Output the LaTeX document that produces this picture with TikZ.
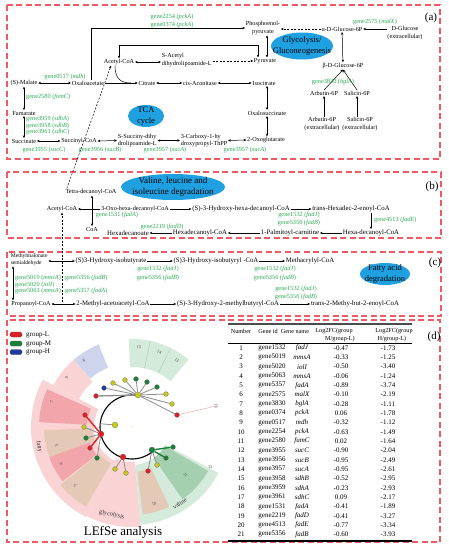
\documentclass[tikz,border=0pt]{standalone}
\usepackage{fontspec}
\setmainfont{Liberation Serif}
\usetikzlibrary{arrows.meta,shapes.geometric,calc}
\pgfdeclarelayer{back}\pgfdeclarelayer{mid}\pgfsetlayers{back,mid,main}
\definecolor{genegreen}{RGB}{40,170,80}
\definecolor{boxred}{RGB}{240,90,100}
\definecolor{ellblue}{RGB}{30,160,225}
\definecolor{wpink}{RGB}{250,212,212}
\definecolor{wdpink}{RGB}{242,165,170}
\definecolor{wtan}{RGB}{228,202,182}
\definecolor{wgreen}{RGB}{212,234,218}
\definecolor{wdgreen}{RGB}{165,208,175}
\definecolor{wblue}{RGB}{205,212,235}
\definecolor{cred}{RGB}{225,30,35}
\definecolor{cgreen}{RGB}{25,130,55}
\definecolor{cyel}{RGB}{200,200,30}
\definecolor{cblue}{RGB}{30,60,160}
\newcommand{\gtxt}[2]{gene#1 (\textit{#2})}
\newcommand{\annsec}[5]{\fill[#1] (#2:#4) arc[start angle=#2,end angle=#3,radius=#4] -- (#3:#5) arc[start angle=#3,end angle=#2,radius=#5] -- cycle;}
\begin{document}
\begin{tikzpicture}[x=1pt,y=-1pt,
 >={Stealth[length=2.8pt,width=2.4pt]},
 pa/.style={font=\fontsize{6.2}{7.4}\selectfont, inner sep=0.6pt, align=center},
 pb/.style={font=\fontsize{6.8}{8}\selectfont, inner sep=0.6pt, align=center},
 gn/.style={font=\fontsize{6.3}{6.5}\selectfont, text=genegreen, inner sep=0pt},
 arr/.style={->, line width=0.5pt},
 darr/.style={<->, line width=0.5pt},
 dsh/.style={->, line width=0.5pt, dash pattern=on 2pt off 1.5pt},
 panel/.style={draw=boxred, line width=1.1pt, dash pattern=on 6pt off 3.5pt},
 plab/.style={font=\fontsize{11}{12}\selectfont, inner sep=0pt},
 ellb/.style={ellipse, fill=ellblue, inner sep=0pt},
 etxt/.style={font=\fontsize{8.5}{10.5}\selectfont, align=center, inner sep=0pt},
 tb/.style={font=\fontsize{7}{8}\selectfont, inner sep=0pt},
 th/.style={font=\fontsize{6.2}{7}\selectfont, inner sep=0pt},
 leaf/.style={circle, draw=black!60, line width=0.2pt, inner sep=0pt, minimum size=4.8pt},
 hub/.style={circle, draw=black!60, line width=0.2pt, inner sep=0pt, minimum size=6pt},
 cedge/.style={draw=black!45, line width=0.8pt},
 redge/.style={draw=cred, line width=1.4pt},
 gedge/.style={draw=cgreen, line width=1.4pt},
 wl/.style={font=\fontsize{4.5}{5}\selectfont, text=black!70, inner sep=0pt},
 cl/.style={font=\fontsize{6.3}{7}\selectfont, text=black!80, inner sep=0pt},
 legbox/.style={rounded corners=1.5pt, minimum width=12pt, minimum height=5pt, draw=black!70, line width=0.3pt, inner sep=0pt},
 legt/.style={font=\fontsize{7}{8}\selectfont, inner sep=0pt, anchor=west}]
\useasboundingbox (0,0) rectangle (449,550);
% panels
\draw[panel] (7,5) rectangle (440,159);
\draw[panel] (7,172) rectangle (441,238);
\draw[panel] (7,252) rectangle (441,316);
\draw[panel] (7,320) rectangle (440,542);
\node[plab] (la) at (431,18) {(a)};
\node[plab] (lb) at (432,187) {(b)};
\node[plab] (lc) at (435,263) {(c)};
\node[plab] (ld) at (434,337) {(d)};
% ---------- panel (a)
\node[ellb, minimum width=62pt, minimum height=27pt] (gly) at (302,46) {};
\node[etxt] (glyt) at (gly) {Glycolysis/\\Gluconeogenesis};
\node[ellb, minimum width=36pt, minimum height=22pt] (tca) at (146,116) {};
\node[etxt] (tcat) at (tca) {TCA\\cycle};
\node[pa] (mal) at (24,83) {(S)-Malate};
\node[pa] (oxa) at (88,83) {Oxaloacetate};
\node[pa] (acc) at (119,62) {Acetyl-CoA};
\node[pa, align=left, anchor=west] (sac) at (161,60) {S-Acetyl\\dihydrolipoamide-L};
\node[pa] (pep) at (263,28) {Phosphoenol-\\pyruvate};
\node[pa] (pyr) at (265,61) {Pyruvate};
\node[pa] (agl) at (342,29) {α-D-Glucose-6P};
\node[pa] (dgl) at (405,33) {D-Glucose\\(extracellular)};
\node[pa] (bgl) at (343,66) {β-D-Glucose-6P};
\node[pa] (arb) at (324,93) {Arbutin-6P};
\node[pa] (sal) at (357,93) {Salicin-6P};
\node[pa] (arbx) at (322,124) {Arbutin-6P\\(extracellular)};
\node[pa] (salx) at (360,124) {Salicin-6P\\(extracellular)};
\node[pa] (cit) at (147,83) {Citrate};
\node[pa] (cis) at (200,83) {cis-Aconitase};
\node[pa] (iso) at (264,83) {Isocitrate};
\node[pa] (oxs) at (267,113) {Oxalosuccinate};
\node[pa] (ogl) at (266,140) {2-Oxoglutarate};
\node[pa, align=left, anchor=west] (cth) at (180,140.5) {3-Carboxy-1-hy\\droxypropyl-ThPP};
\node[pa, align=left, anchor=west] (ssd) at (117,140.5) {S-Succiny-dihy\\drolipoamide-L};
\node[pa] (sca) at (79,141) {Succinyl-CoA};
\node[pa] (suc) at (24,141) {Succinate};
\node[pa] (fum) at (24,113) {Fumarate};
\draw[darr] (mal) -- (oxa);
\draw[arr] (oxa) -- (cit);
\coordinate (jn) at (131,83);
\draw[line width=0.5pt] ([xshift=-4pt]acc.south) .. controls (115,78) and (120,83) .. (jn);
\draw[darr] (acc) -- (sac.west |- acc);
\draw[dsh] (sac.east |- pyr) -- (pyr);
\coordinate (pk) at (258,45);
\draw[darr] (acc.north) |- (pk) -- (pk |- pyr.north);
\draw[darr] ([xshift=4pt]pep.south) -- ([xshift=2pt]pyr.north);
\draw[arr] ([xshift=3pt]oxa.north) |- (pep.west);
\draw[dsh] (agl.west) -- (pep.east |- agl.west);
\draw[arr] (dgl.west |- agl) -- (agl);
\draw[darr] (agl) -- (bgl);
\draw[arr] (arb.north) -- (bgl.south);
\draw[arr] (sal.north) -- (bgl.south);
\draw[arr] (arb.south |- arbx.north) -- (arb.south);
\draw[arr] (sal.south |- salx.north) -- (sal.south);
\draw[darr] (cit) -- (cis);
\draw[darr] (cis) -- (iso);
\draw[darr] (iso.south -| oxs) -- (oxs.north);
\draw[darr] (oxs.south) -- (ogl.north -| oxs);
\draw[darr] (cth.east) -- (ogl.west);
\draw[darr] (ssd.east) -- (cth.west);
\draw[darr] (sca.east) -- (ssd.west);
\draw[darr] (suc.east) -- (sca.west);
\draw[darr] (fum.south) -- (suc.north);
\draw[darr] (fum.north) -- (mal.south);
\node[gn] (g2254) at (172,17) {\gtxt{2254}{pckA}};
\node[gn] (g0374) at (172,25) {\gtxt{0374}{pckA}};
\node[gn] (g2575) at (375,22) {\gtxt{2575}{malX}};
\node[gn] (g3830) at (333,82) {\gtxt{3830}{bglA}};
\node[gn] (g0517) at (65,77) {\gtxt{0517}{mdh}};
\node[gn, anchor=west] (g2580) at (26,97) {\gtxt{2580}{fumC}};
\node[gn, anchor=west] (g3959) at (26,119) {\gtxt{3959}{sdhA}};
\node[gn, anchor=west] (g3958) at (26,125.5) {\gtxt{3958}{sdhB}};
\node[gn, anchor=west] (g3961) at (26,132) {\gtxt{3961}{sdhC}};
\node[gn] (g3955) at (44,150) {\gtxt{3955}{sucC}};
\node[gn] (g3956) at (100,150) {\gtxt{3956}{sucB}};
\node[gn] (g3957a) at (165,150) {\gtxt{3957}{sucA}};
\node[gn] (g3957b) at (245,150) {\gtxt{3957}{sucA}};
% ---------- panel (b)
\node[ellb, minimum width=104pt, minimum height=26pt] (val) at (173,187) {};
\node[font=\fontsize{9}{11}\selectfont, align=center, inner sep=0pt] (valt) at (val) {Valine, leucine and\\isoleucine degradation};
\node[pa] (tet) at (91,192) {Tetra-decanoyl-CoA};
\node[pa] (acb) at (62,209) {Acetyl-CoA};
\node[pa] (coa) at (92,229) {CoA};
\node[pa] (oxo) at (135,209) {3-Oxo-hexa-decanoyl-CoA};
\node[pb] (shd) at (241,209) {(S)-3-Hydroxy-hexa-decanoyl-CoA};
\node[pb] (thd) at (351,209) {trans-Hexadec-2-enoyl-CoA};
\node[pb] (hdc) at (371,233) {Hexa-decanoyl-CoA};
\node[pb] (pal) at (290,233) {1-Palmitoyl-carnitine};
\node[pb] (hdy) at (200,233) {Hexadecanoyl-CoA};
\node[pb] (hde) at (128,233) {Hexadecanoate};
\draw[arr] (oxo) -- (acb);
\draw[darr] (coa) -- (tet.south -| coa);
\draw[arr] (oxo) -- (shd);
\draw[arr] (shd) -- (thd);
\draw[arr] (thd.south -| hdc) -- (hdc);
\draw[arr] (hdc) -- (pal);
\draw[arr] (pal) -- (hdy);
\draw[arr] (hdy) -- (hde);
\draw[dsh] ([xshift=2pt]tet.north west) -- ([xshift=-8pt]acc.south);
\node[gn] (g1531) at (117,214.5) {\gtxt{1531}{fadA}};
\node[gn] (g1532b) at (299,215) {\gtxt{1532}{fadJ}};
\node[gn] (g5356b) at (299,223) {\gtxt{5356}{fadB}};
\node[gn, anchor=west] (g4513) at (374,219.5) {\gtxt{4513}{fadE}};
\node[gn] (g2219) at (162,226.5) {\gtxt{2219}{fadD}};
% ---------- panel (c)
\node[pa, font=\fontsize{5.6}{6.8}\selectfont, align=left, anchor=west] (mms) at (10,259.5) {Methylmalonate\\semialdehyde};
\node[pb] (hib) at (111,261) {(S)3-Hydroxy-isobutyrate};
\node[pb] (hic) at (216,261) {(S)3-Hydroxy-isobutyryl -CoA};
\node[pb] (mac) at (310,261) {Methacrylyl-CoA};
\node[pa] (prp) at (31,304) {Propanoyl-CoA};
\node[pb] (mac2) at (113,304) {2-Methyl-acetoacetyl-CoA};
\node[pb] (hmb) at (228,304) {(S)-3-Hydroxy-2-methylbutyryl-CoA};
\node[pb] (tmb) at (355,304) {trans-2-Methy-but-2-enoyl-CoA};
\node[ellb, minimum width=50pt, minimum height=22pt] (fat) at (385,274) {};
\node[etxt] (fatt) at (fat) {Fatty acid\\degradation};
\coordinate (dend) at (62,302);
\draw[dsh] (dend) -- (acb.south);
\draw[darr] (mms.east |- hib) -- (hib);
\draw[arr] (hib) -- (hic);
\draw[arr] (hic) -- (mac);
\draw[darr] ([xshift=3pt]mms.south west) -- ([xshift=3pt]mms.south west |- prp.north);
\draw[darr] (prp) -- (mac2);
\draw[arr] (mac2) -- (hmb);
\draw[arr] (hmb) -- (tmb);
\node[gn] (g1532c) at (158,269) {\gtxt{1532}{fadJ}};
\node[gn] (g5356c) at (158,277.5) {\gtxt{5356}{fadB}};
\node[gn] (g1532d) at (275,269) {\gtxt{1532}{fadJ}};
\node[gn] (g5356d) at (275,277.5) {\gtxt{5356}{fadB}};
\node[gn] (g1532e) at (296,289) {\gtxt{1532}{fadJ}};
\node[gn] (g5356e) at (296,297) {\gtxt{5356}{fadB}};
\node[gn, anchor=west] (g5019) at (15,278) {\gtxt{5019}{mmsA}};
\node[gn, anchor=west] (g5020) at (15,284.5) {\gtxt{5020}{iolI}};
\node[gn, anchor=west] (g5063) at (15,291) {\gtxt{5063}{mmsA}};
\node[gn, anchor=west] (g5356f) at (65,278) {\gtxt{5356}{fadB}};
\node[gn, anchor=west] (g5357) at (65,291) {\gtxt{5357}{fadA}};
% ---------- panel (d): legend
\node[legbox, fill=cred] (lgr) at (16,334.5) {};
\node[legt] (lgrt) at (26,334.5) {group-L};
\node[legbox, fill=cgreen] (lgg) at (16,343.5) {};
\node[legt] (lggt) at (26,343.5) {group-M};
\node[legbox, fill=cblue] (lgb) at (16,352) {};
\node[legt] (lgbt) at (26,352) {group-H};
% cladogram
\begin{scope}[shift={(132pt,-427pt)}, x=1pt, y=1pt]
\begin{pgfonlayer}{back}
\annsec{wpink}{152}{243}{38}{101}
\annsec{wdpink}{156}{177}{45}{93}
\annsec{wtan}{182}{200}{40}{88}
\annsec{wdpink}{200}{218}{45}{88}
\annsec{wtan}{219}{240}{42}{92}
\annsec{wpink}{243}{275}{35}{100}
\annsec{wgreen}{275}{332}{38}{98}
\annsec{wtan}{277}{295}{45}{88}
\annsec{wdgreen}{305}{330}{38}{88}
\annsec{wgreen}{50}{92}{60}{88}
\annsec{wblue}{112}{131}{64}{89}
\annsec{wpink}{131}{152}{60}{89}
\draw[wdgreen, line width=0.4pt] (64:60) -- (64:88) (78:60) -- (78:88);
\end{pgfonlayer}
\node[hub, fill=cyel] (ht) at (6,32) {};
\node[leaf, fill=cyel] (y1) at (-19,44) {};
\node[leaf, fill=cyel] (y2) at (-7,47) {};
\node[leaf, fill=cgreen] (g1) at (4,48) {};
\node[leaf, fill=cgreen] (g2) at (15,45) {};
\node[leaf, fill=cgreen] (g3) at (25,40) {};
\node[leaf, fill=cyel] (y3) at (34,33) {};
\node[leaf, fill=cyel] (y4) at (40,23) {};
\node[leaf, fill=cred] (r1) at (45,12) {};
\node[leaf, fill=cblue] (b1) at (-28,39) {};
\node[leaf, fill=cred] (r2) at (-36,31) {};
\node[hub, fill=cred] (hl) at (-31,-7) {};
\node[leaf, fill=cred] (r3) at (-47,12) {};
\node[leaf, fill=cyel] (y5) at (-48,0) {};
\node[leaf, fill=cgreen] (g4) at (-46,-11) {};
\node[leaf, fill=cred] (r4) at (-42,-21) {};
\node[leaf, fill=cgreen] (g5) at (-35,-31) {};
\coordinate (ca) at (174:32);
\node[hub, fill=cyel] (yi) at (-17,2) {};
\node[circle, fill=cyel, inner sep=0pt, minimum size=1pt] (cd) at (0,0) {};
\node[hub, fill=cred] (hb) at (-9,-30) {};
\node[leaf, fill=cyel] (y6) at (-17,-42) {};
\node[leaf, fill=cyel] (y7) at (-6,-46) {};
\node[hub, fill=cgreen] (hr) at (20,-23) {};
\node[leaf, fill=cgreen] (g6) at (41,-20) {};
\node[leaf, fill=cgreen] (g7) at (34,-31) {};
\node[leaf, fill=cyel] (y8) at (25,-38) {};
\node[leaf, fill=cred] (r5) at (16,-44) {};
\node[wl, rotate=-75] (lab16) at (84,21) {16};
\begin{pgfonlayer}{mid}
\draw[line width=1.1pt] (80:32) arc[start angle=80,end angle=311,radius=32];
\foreach \tg in {y1,y2,g1,g2,g3,y3,y4,r1,b1} \draw[cedge] (ht) -- (\tg);
\draw[cedge, line width=1.3pt] (ht) -- (r2);
\foreach \tg in {y5,g4,g5} \draw[cedge] (hl) -- (\tg);
\draw[redge] (hl) -- (r3);
\draw[redge] (hl) -- (r4);
\draw[cedge] (ca) -- (yi);
\foreach \tg in {y6,y7} \draw[cedge] (hb) -- (\tg);
\draw[gedge] (hr) -- (g6);
\draw[gedge] (hr) -- (g7);
\draw[cedge] (hr) -- (y8);
\draw[cedge] (hr) -- (r5);
\draw[draw=wdpink, line width=0.5pt] (r1) -- (lab16);
\end{pgfonlayer}
\node[wl, rotate=-5] (n15) at (85:80) {15};
\node[wl, rotate=-20] (n14) at (70:80) {14};
\node[wl, rotate=-34] (n13) at (56:80) {13};
\node[wl, rotate=36] (n8) at (126:82) {8};
\node[wl, rotate=53] (n9) at (143:82) {9};
\node[wl, rotate=73] (n7) at (163:84) {7};
\node[wl, rotate=104] (n3) at (194:78) {3};
\node[wl, rotate=118] (n4) at (208:80) {4};
\node[wl, rotate=136] (n5) at (226:82) {5};
\node[wl, rotate=16] (n10) at (286:80) {10};
\node[wl, rotate=48] (n11) at (318:72) {11};
\node[wl] (n12) at (333:88) {12};
\node[cl, rotate=282] (fatty) at (192:95) {fatty};
\node[cl, rotate=-13] (glyco) at (257:90) {glycolysis};
\node[cl, rotate=34] (valn) at (302:90) {valine};
\end{scope}
\node[font=\fontsize{13}{14}\selectfont, inner sep=0pt] (lefse) at (123,532) {LEfSe analysis};
% table
\draw[line width=1.2pt, black!70] (228,324) -- (412,324);
\node[th] (hn) at (241,331) {Number};
\node[th] (hg) at (268,331) {Gene id};
\node[th] (hgn) at (295,331) {Gene name};
\node[th] (hm1) at (334,331) {Log2FC(group};
\node[th] (hm2) at (340,339) {M/group-L)};
\node[th] (hh1) at (394,331) {Log2FC(group};
\node[th] (hh2) at (392,339) {H/group-L)};
\draw[line width=0.4pt] (228,343.5) -- (412,343.5);
\foreach \vn/\vg/\vm/\va/\vb in {1/1532/fadJ/-0.47/-1.73, 2/5019/mmsA/-0.33/-1.25, 3/5020/iolI/-0.50/-3.40, 4/5063/mmsA/-0.06/-1.24, 5/5357/fadA/-0.89/-3.74, 6/2575/malX/-0.10/-2.19, 7/3830/bglA/-0.28/-1.11, 8/0374/pckA/0.06/-1.78, 9/0517/mdh/-0.32/-1.12, 10/2254/pckA/-0.63/-1.49, 11/2580/fumC/0.02/-1.64, 12/3955/sucC/-0.90/-2.04, 13/3956/sucB/-0.95/-2.49, 14/3957/sucA/-0.95/-2.61, 15/3958/sdhB/-0.52/-2.95, 16/3959/sdhA/-0.23/-2.93, 17/3961/sdhC/0.09/-2.17, 18/1531/fadA/-0.41/-1.89, 19/2219/fadD/-0.41/-3.27, 20/4513/fadE/-0.77/-3.34, 21/5356/fadB/-0.60/-3.93} {
 \node[tb] (rn\vn) at (241,{348+(\vn-1)*9.32}) {\vn};
 \node[tb] (rg\vn) at (272,{348+(\vn-1)*9.32}) {gene\vg};
 \node[tb, font=\fontsize{7}{8}\selectfont\itshape] (rm\vn) at (302,{348+(\vn-1)*9.32}) {\vm};
 \node[tb] (ra\vn) at (341,{348+(\vn-1)*9.32}) {\va};
 \node[tb] (rb\vn) at (388,{348+(\vn-1)*9.32}) {\vb};
}
\draw[line width=1.2pt] (228,541) -- (412,541);
\end{tikzpicture}
\end{document}
